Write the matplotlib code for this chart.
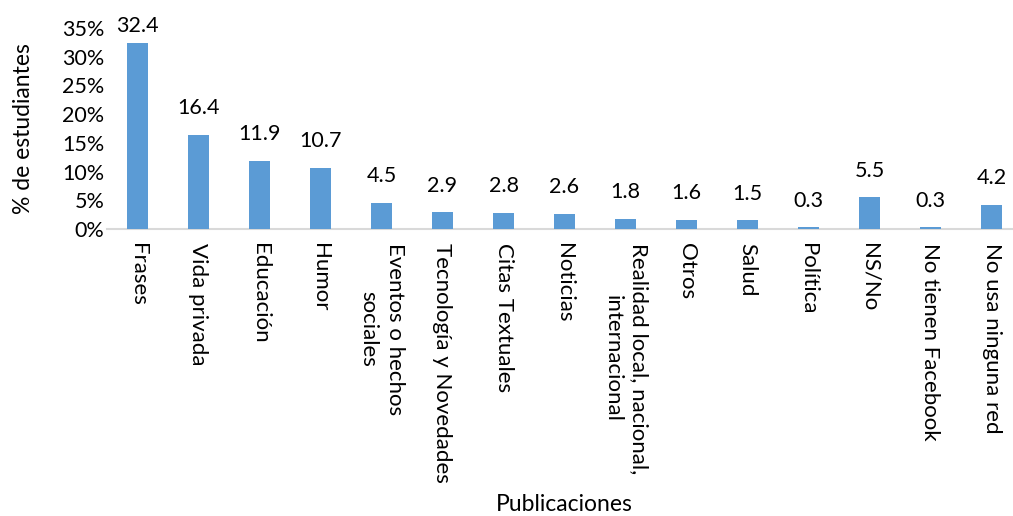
import matplotlib
matplotlib.use("Agg")
import matplotlib.pyplot as plt
from matplotlib.ticker import PercentFormatter

plt.rcParams["font.family"] = ["Lato", "DejaVu Sans"]

# data
categories = [
    "Frases", "Vida privada", "Educación", "Humor", "Eventos o hechos\nsociales",
    "Tecnología y Novedades", "Citas Textuales", "Noticias",
    "Realidad local, nacional,\ninternacional", "Otros", "Salud", "Política",
    "NS/No", "No tienen Facebook", "No usa ninguna red",
]
values = [32.4, 16.4, 11.9, 10.7, 4.5, 2.9, 2.8, 2.6, 1.8, 1.6, 1.5, 0.3, 5.5, 0.3, 4.2]
y_ticks = [0, 5, 10, 15, 20, 25, 30, 35]

BAR_COLOR = "#5b9bd5"
FS = 15.5

fig = plt.figure(figsize=(10.13, 5.16), dpi=100)
# axis runs a little past the right edge, as in the original
ax = fig.add_axes([107 / 1013, (516 - 229) / 516, (1022 - 107) / 1013, 201 / 516])

x = list(range(len(categories)))
bars = ax.bar(x, values, width=0.33, color=BAR_COLOR, zorder=3)

ymax = 35
for xi, v in zip(x, values):
    # labels near the top get squeezed down, like Excel does
    off = 12 if v < ymax - 5 else 5
    ax.annotate(f"{v:.1f}", (xi, v), xytext=(0, off), textcoords="offset points",
                ha="center", va="bottom", fontsize=FS)

ax.set_xlim(-0.5, len(categories) - 0.5)
ax.set_ylim(0, ymax)
ax.set_yticks(y_ticks)
ax.yaxis.set_major_formatter(PercentFormatter(decimals=0))
ax.set_xticks(x)
ax.set_xticklabels(categories, rotation=270, ha="center", va="top",
                   multialignment="center", linespacing=1.4, fontsize=16)
ax.tick_params(axis="both", length=0)
ax.tick_params(axis="x", pad=10)
ax.tick_params(axis="y", pad=2, labelsize=FS)

for side in ["top", "right", "left"]:
    ax.spines[side].set_visible(False)
ax.spines["bottom"].set_color("#d9d9d9")
ax.spines["bottom"].set_linewidth(1.5)

ax.set_ylabel("% de estudiantes", fontsize=16.5, va="center")
ax.yaxis.set_label_coords(-0.091, 0.5)
ax.set_xlabel("Publicaciones", fontsize=16.5, va="center")
ax.xaxis.set_label_coords(0.5, -1.37)

fig.savefig("out.png", dpi=100)
